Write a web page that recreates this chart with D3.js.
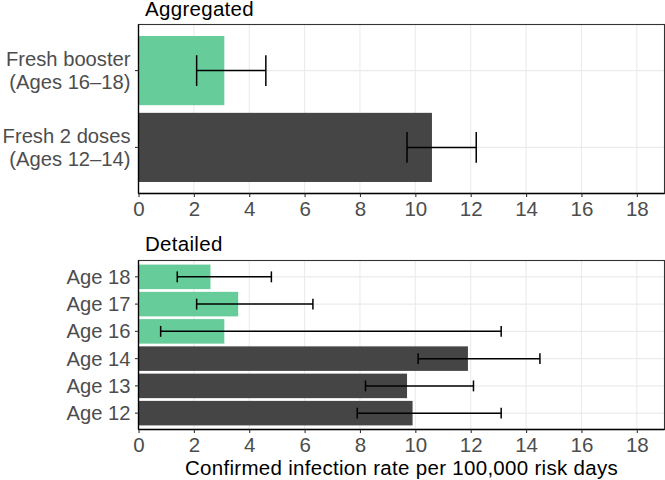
<!DOCTYPE html>
<html>
<head>
<meta charset="utf-8">
<script src="https://cdn.jsdelivr.net/npm/d3@7"></script>
<style>
  html, body { margin: 0; padding: 0; background: #fff; }
  svg { display: block; }
  text { font-family: "Liberation Sans", Arial, Helvetica, sans-serif; }
</style>
</head>
<body>
<svg id="chart" width="665" height="480"></svg>
<script>
// ---- Data ----
const xTicks = [0, 2, 4, 6, 8, 10, 12, 14, 16, 18];
const xMax = 19;

const aggCategories = ["Fresh booster\n(Ages 16\u201318)", "Fresh 2 doses\n(Ages 12\u201314)"];
const aggGroups = ["booster", "twodoses"];
const aggValues = [3.1, 10.6];
const aggLower = [2.1, 9.7];
const aggUpper = [4.6, 12.2];

const detCategories = ["Age 18", "Age 17", "Age 16", "Age 14", "Age 13", "Age 12"];
const detGroups = ["booster", "booster", "booster", "twodoses", "twodoses", "twodoses"];
const detValues = [2.6, 3.6, 3.1, 11.9, 9.7, 9.9];
const detLower = [1.4, 2.1, 0.8, 10.1, 8.2, 7.9];
const detUpper = [4.8, 6.3, 13.1, 14.5, 12.1, 13.1];

const groupColors = { booster: "#66CC99", twodoses: "#454545" };

// ---- Layout ----
const svg = d3.select("#chart");
const left = 138.5, right = 664.5;
const fs = 20.5;
const x = d3.scaleLinear().domain([0, xMax]).range([left, right]);

function panel(title, titleY, top, bottom, cats, groups, vals, lo, hi) {
  const g = svg.append("g");
  const y = d3.scaleBand().domain(cats).range([top, bottom]).paddingInner(0.1).paddingOuter(0.15);
  const step = y.step();

  // background + gridlines
  g.append("rect").attr("x", left).attr("y", top).attr("width", right - left).attr("height", bottom - top)
    .attr("fill", "#fff");
  g.selectAll(".vg").data(xTicks).join("line")
    .attr("x1", d => x(d)).attr("x2", d => x(d)).attr("y1", top).attr("y2", bottom)
    .attr("stroke", "#ebebeb").attr("stroke-width", 1.1);
  g.selectAll(".hg").data(cats).join("line")
    .attr("x1", left).attr("x2", right)
    .attr("y1", d => y(d) + y.bandwidth() / 2).attr("y2", d => y(d) + y.bandwidth() / 2)
    .attr("stroke", "#ebebeb").attr("stroke-width", 1.1);

  // bars
  g.selectAll(".bar").data(cats).join("rect")
    .attr("x", x(0)).attr("y", d => y(d))
    .attr("width", (d, i) => x(vals[i]) - x(0))
    .attr("height", y.bandwidth())
    .attr("fill", (d, i) => groupColors[groups[i]]);

  // error bars
  const capH = 0.4 * step;
  const eb = g.selectAll(".eb").data(cats).join("g")
    .attr("transform", d => `translate(0,${y(d) + y.bandwidth() / 2})`);
  eb.append("line").attr("x1", (d, i) => x(lo[i])).attr("x2", (d, i) => x(hi[i]))
    .attr("y1", 0).attr("y2", 0).attr("stroke", "#000").attr("stroke-width", 1.5);
  eb.append("line").attr("x1", (d, i) => x(lo[i])).attr("x2", (d, i) => x(lo[i]))
    .attr("y1", -capH / 2).attr("y2", capH / 2).attr("stroke", "#000").attr("stroke-width", 1.5);
  eb.append("line").attr("x1", (d, i) => x(hi[i])).attr("x2", (d, i) => x(hi[i]))
    .attr("y1", -capH / 2).attr("y2", capH / 2).attr("stroke", "#000").attr("stroke-width", 1.5);

  // panel border
  g.append("rect").attr("x", left).attr("y", top).attr("width", right - left).attr("height", bottom - top)
    .attr("fill", "none").attr("stroke", "#333").attr("stroke-width", 1.1);
  // axis lines (black)
  g.append("line").attr("x1", left).attr("x2", left).attr("y1", top).attr("y2", bottom)
    .attr("stroke", "#000").attr("stroke-width", 1.3);
  g.append("line").attr("x1", left).attr("x2", right).attr("y1", bottom).attr("y2", bottom)
    .attr("stroke", "#000").attr("stroke-width", 1.3);

  // x axis
  const xa = d3.axisBottom(x).tickValues(xTicks).tickSize(3.5).tickPadding(4).tickFormat(d3.format("d"));
  const ax = g.append("g").attr("transform", `translate(0,${bottom})`).call(xa);
  ax.select(".domain").remove();
  ax.selectAll(".tick line").attr("stroke", "#333").attr("stroke-width", 1.1);
  ax.selectAll(".tick text").attr("fill", "#4d4d4d").attr("font-size", fs)
    .attr("font-family", "Liberation Sans, Arial, sans-serif").attr("dy", "0.71em");

  // y axis
  const ya = d3.axisLeft(y).tickSize(3.5).tickPadding(4);
  const ay = g.append("g").attr("transform", `translate(${left},0)`).call(ya);
  ay.select(".domain").remove();
  ay.selectAll(".tick line").attr("stroke", "#333").attr("stroke-width", 1.1);
  ay.selectAll(".tick text").each(function (d) {
    const t = d3.select(this);
    const lines = d.split("\n");
    t.text(null).attr("fill", "#4d4d4d").attr("font-size", 20.2)
      .attr("font-family", "Liberation Sans, Arial, sans-serif").attr("dy", null);
    const lh = 22.5;
    const start = -((lines.length - 1) * lh) / 2 + 7;
    lines.forEach((ln, k) => {
      t.append("tspan").attr("x", -8).attr("y", start + k * lh).text(ln);
    });
  });

  // title
  svg.append("text").attr("x", left + 6.5).attr("y", titleY).attr("font-size", fs).attr("fill", "#000")
    .attr("letter-spacing", "0.3px")
    .text(title);
}

panel("Aggregated", 16, 24.5, 193.5, aggCategories, aggGroups, aggValues, aggLower, aggUpper);
panel("Detailed", 251, 260.5, 429.5, detCategories, detGroups, detValues, detLower, detUpper);

svg.append("text").attr("x", (left + right) / 2).attr("y", 474.5).attr("text-anchor", "middle")
  .attr("font-size", fs).attr("fill", "#000").attr("letter-spacing", "0.3px")
  .text("Confirmed infection rate per 100,000 risk days");
</script>
</body>
</html>
